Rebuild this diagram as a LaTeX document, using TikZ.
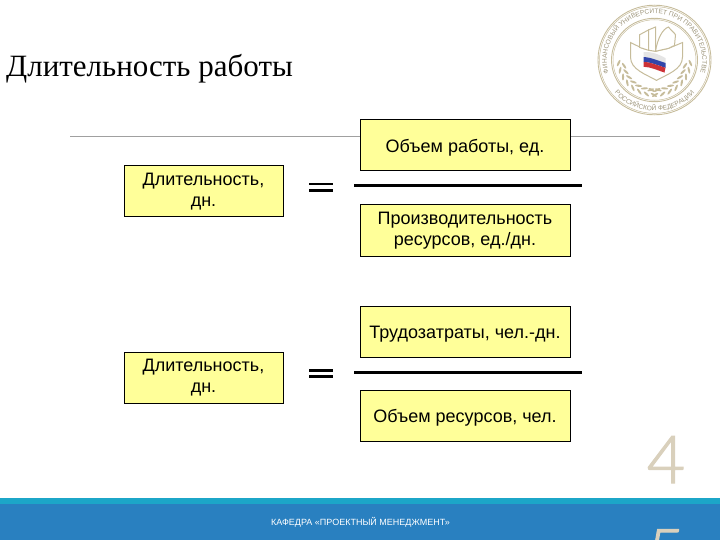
\documentclass[tikz,border=0pt]{standalone}
\usepackage{fontspec}
\setmainfont{Liberation Sans}
\newfontfamily\titlefont{Liberation Serif}
\newfontfamily\numfont[RawFeature={embolden=1.6}]{Lato Light}
\usetikzlibrary{decorations.text}
\definecolor{cbox}{RGB}{255,255,153}
\definecolor{cblue}{RGB}{41,128,192}
\definecolor{cteal}{RGB}{28,166,200}
\definecolor{crule}{RGB}{160,160,160}
\definecolor{ctan}{RGB}{217,208,188}
\definecolor{clogo}{RGB}{198,188,155}
\definecolor{cflagb}{RGB}{50,70,170}
\definecolor{cflagr}{RGB}{205,50,55}
\tikzset{
  slide/.style={x=1pt,y=-1pt,font=\fontsize{18}{21}\selectfont},
  valbox/.style={draw=black,fill=cbox,line width=1pt,align=center,inner sep=0pt,minimum height=51pt,execute at begin node={\rule{0pt}{17pt}}},
  leftbox/.style={valbox,minimum width=159pt},
  rightbox/.style={valbox,minimum width=210pt},
  fracbar/.style={line width=3pt},
  eqbar/.style={line width=2.6pt},
  logoline/.style={draw=clogo,line width=1pt}
}

\begin{document}
\begin{tikzpicture}[slide]
    \useasboundingbox (0,0) rectangle (720,540);
    % footer
    \fill[cblue] (0,498) rectangle (720,540);
    \fill[cteal] (0,498) rectangle (720,503.5);
    \draw[crule,line width=0.8pt] (70,136) -- (660,136);
    \node[anchor=base west,inner sep=0pt,font=\titlefont\fontsize{31}{34}\selectfont] (title) at (6,77) {Длительность работы};
    \node[anchor=base west,inner sep=0pt,white,font=\fontsize{9}{10}\selectfont] (dept) at (271,525.5) {КАФЕДРА «ПРОЕКТНЫЙ МЕНЕДЖМЕНТ»};
    \node[anchor=base,inner sep=0pt,ctan,font=\numfont\fontsize{66}{70}\selectfont] (numa) at (666,483) {4};
    \node[anchor=base,inner sep=0pt,ctan,font=\numfont\fontsize{66}{70}\selectfont] (numb) at (666,576) {5};
    % first formula
    \node[leftbox] (durA) at (203.5,191.5) {Длительность,\\дн.};
    \node[rightbox] (workA) at (465,145.5) {Объем работы, ед.};
    \node[rightbox] (rateA) at (465,230.5) {Производительность\\ресурсов, ед./дн.};
    % second formula
    \node[leftbox] (durB) at (203.5,377.5) {Длительность,\\дн.};
    \node[rightbox] (workB) at (465,331.5) {Трудозатраты, чел.-дн.};
    \node[rightbox] (rateB) at (465,415.5) {Объем ресурсов, чел.};
    \foreach \n/\y in {A/186,B/372} {
      \coordinate (barl\n) at (354,\y);
      \coordinate (barr\n) at (582,\y);
      \draw[fracbar] (barl\n) -- (barr\n);
      \draw[eqbar] (309,\y-1.8) -- (332.5,\y-1.8);
      \draw[eqbar] (309,\y+4.3) -- (332.5,\y+4.3);
    }
    % logo
    \begin{scope}[shift={(654.5,60)},y=0.97pt]
      \foreach \r/\w in {56.5/0.9,55/0.5,43/0.9,41.5/0.5} \draw[clogo,line width=\w pt] (0,0) circle (\r);
      \path[decorate,decoration={text along path,text align=center,
        text={|\fontsize{6.6}{8}\selectfont\color{clogo!80!black}|ФИНАНСОВЫЙ УНИВЕРСИТЕТ ПРИ ПРАВИТЕЛЬСТВЕ}}]
        (-43.7,-19) arc[start angle=203.5,end angle=-23.5,radius=47.7];
      \path[decorate,decoration={text along path,text align=center,
        text={|\fontsize{6.6}{8}\selectfont\color{clogo!80!black}|РОССИЙСКОЙ ФЕДЕРАЦИИ}}]
        (-46.2,-24.6) arc[start angle=208,end angle=332,radius=52.4];
      % laurels
      \foreach \s in {-1,1} \foreach \a in {185,197,...,275} {
        \fill[clogo,xscale=\s] (\a:36) ellipse[x radius=3.6,y radius=1.1,rotate=\a+60];
        \fill[clogo,xscale=\s] (\a+6:31) ellipse[x radius=3.6,y radius=1.1,rotate=\a+120];
      }
      % shield
      \draw[logoline,fill=white] (-24,18) -- (-24,3) .. controls (-24,-10) and (-8,-15) .. (2,-21) .. controls (12,-15) and (28,-10) .. (28,3) -- (28,18) -- (14,12) -- (1,9) -- (-12,12) -- cycle;
      \draw[logoline,fill=white] (-15,13) -- (-15,26) -- (-6,31) -- (-6,10) -- cycle;
      \draw[logoline,fill=white] (-6,10) -- (-6,31) -- (1,34) -- (1,9) -- cycle;
      \draw[logoline,fill=white] (1,9) .. controls (3,22) and (8,32) .. (14,34) .. controls (17,30) and (20,28) .. (21,26) -- (20,15) -- (14,12) -- cycle;
      % flag
      \fill[white!90!black] (-11,8) .. controls (-4,9) and (4,6) .. (11,2) -- (11,-3) .. controls (4,-1) and (-4,3) .. (-11,3) -- cycle;
      \fill[cflagb] (-11,3) .. controls (-4,3) and (4,-1) .. (11,-3) -- (11,-8) .. controls (4,-6) and (-4,-2) .. (-11,-2) -- cycle;
      \fill[cflagr] (-11,-2) .. controls (-4,-2) and (4,-6) .. (11,-8) -- (10,-13) .. controls (4,-11) and (-4,-7) .. (-11,-7) -- cycle;
    \end{scope}
  \end{tikzpicture}
\end{document}
